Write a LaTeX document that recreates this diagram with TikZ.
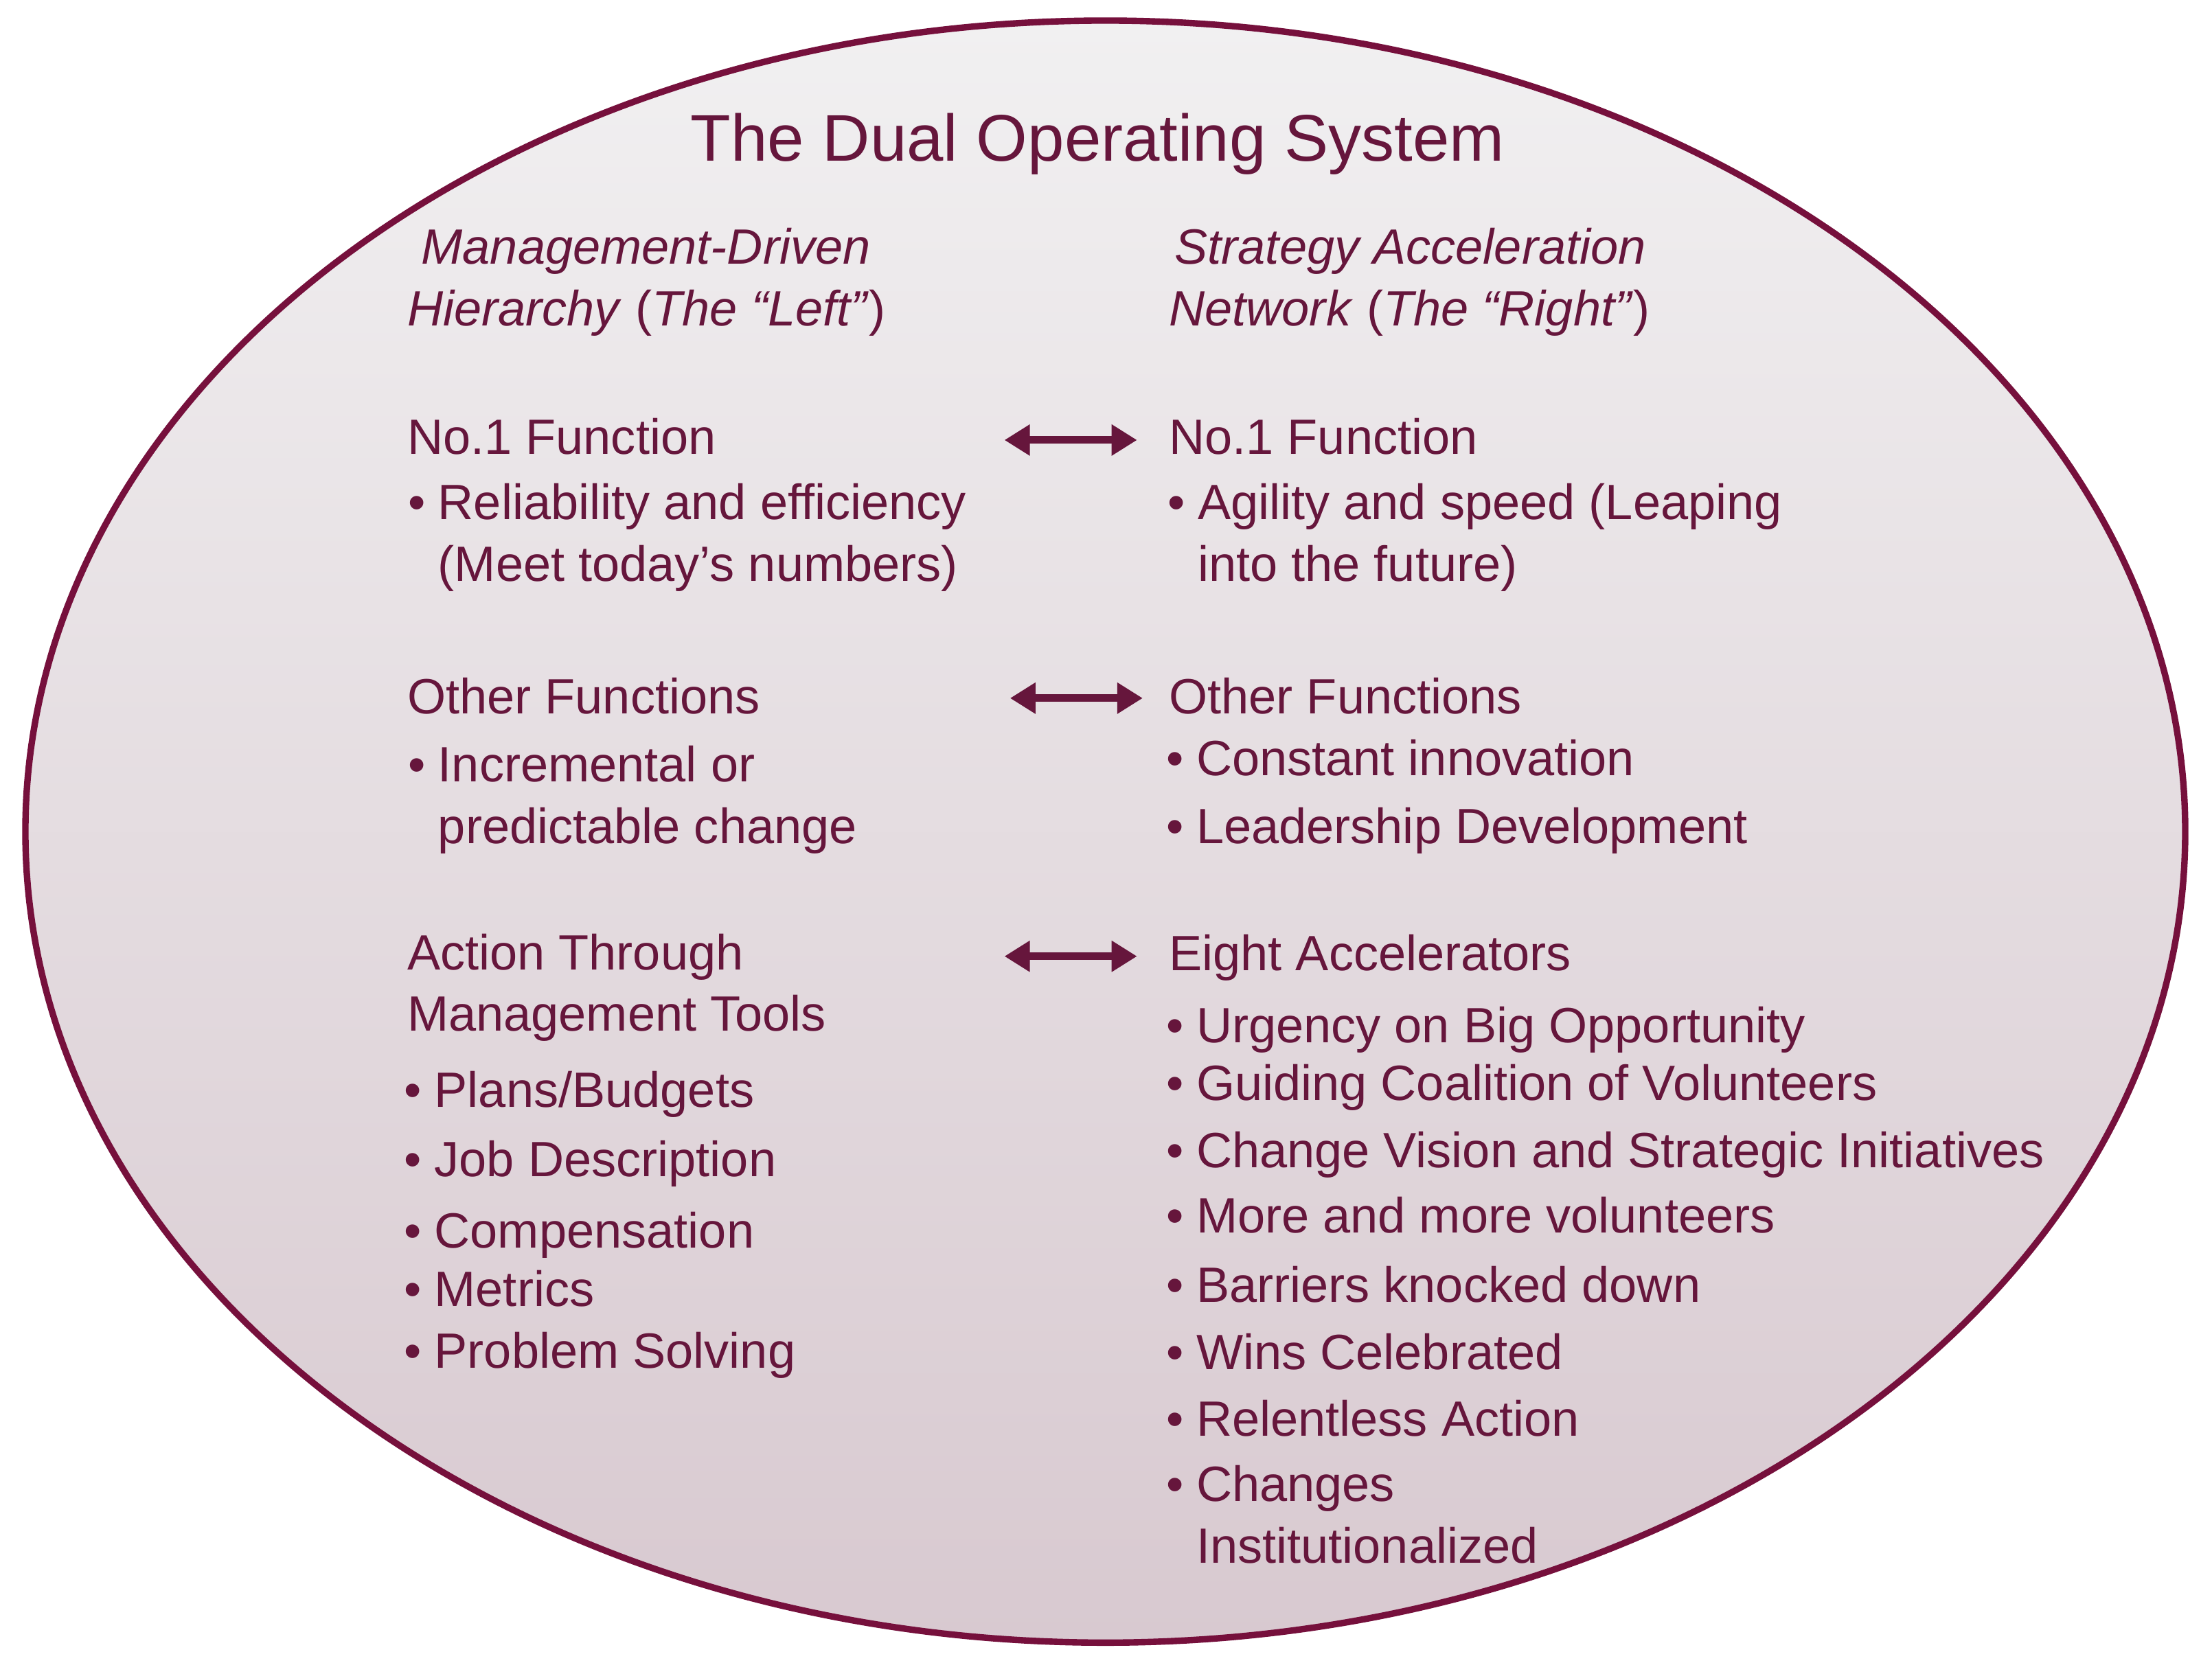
\documentclass[tikz,border=0pt]{standalone}
\usepackage{fontspec}
\setmainfont{Liberation Sans}
\usetikzlibrary{arrows.meta,positioning}
\definecolor{RimMaroon}{RGB}{118,16,60}
\definecolor{InkPlum}{RGB}{102,22,60}
\definecolor{MistTop}{RGB}{241,240,241}
\definecolor{MistBottom}{RGB}{216,201,208}
\newcommand{\bl}{\textbullet\hspace{0.09cm}}
\tikzset{
  maintitle/.style={font=\fontsize{13.3}{16}\selectfont,text=InkPlum,
    anchor=base,inner sep=0pt},
  colhead/.style={font=\fontsize{10}{12.4}\selectfont\itshape,text=InkPlum,
    anchor=base west,inner sep=0pt,align=left},
  entry/.style={font=\fontsize{10}{12.4}\selectfont,text=InkPlum,
    anchor=base west,inner sep=0pt,align=left},
  link/.style={{Triangle[length=0.18cm,width=0.21cm]}-{Triangle[length=0.18cm,width=0.21cm]},
    line width=1.5pt,InkPlum}
}

\begin{document}
\begin{tikzpicture}

\fill[white] (0,0) rectangle (15.68,-11.79);
\useasboundingbox (0,0) rectangle (15.68,-11.79);

% outer oval
\draw[RimMaroon,line width=1.3pt,top color=MistTop,bottom color=MistBottom]
  (7.835,-5.896) ellipse [x radius=7.655cm,y radius=5.75cm];

\node[maintitle] (title) at (7.78,-1.14) {The Dual Operating System};

% column headings (multi-line nodes sit on their last baseline)
\node[colhead] (lhead) at (2.88,-2.31)
  {\hspace*{0.1cm}Management-Driven\\Hierarchy \textup{(}The “Left”\textup{)}};
\node[colhead] (rhead) at (8.28,-2.31)
  {\hspace*{0.04cm}Strategy Acceleration\\Network \textup{(}The “Right”\textup{)}};

% no.1 function
\node[entry] (lfun1) at (2.88,-3.22) {No.1 Function};
\node[entry] (lbul1) at (2.885,-4.12)
  {\bl Reliability and efficiency\\\phantom{\bl}(Meet today’s numbers)};
\node[entry] (rfun1) at (8.28,-3.22) {No.1 Function};
\node[entry] (rbul1) at (8.27,-4.12)
  {\bl Agility and speed (Leaping\\\phantom{\bl}into the future)};

% other functions
\node[entry] (lfun2) at (2.88,-5.06) {Other Functions};
\node[entry] (lbul2) at (2.885,-5.98)
  {\bl Incremental or\\\phantom{\bl}predictable change};
\node[entry] (rfun2) at (8.28,-5.06) {Other Functions};
\node[entry] (rbul2a) at (8.26,-5.50) {\bl Constant innovation};
\node[entry] (rbul2b) at (8.26,-5.98) {\bl Leadership Development};

% tools and accelerators
\node[entry] (lfun3) at (2.88,-7.31) {Action Through\\Management Tools};
\node[entry] (ltool1) at (2.86,-7.85) {\bl Plans/Budgets};
\node[entry] (ltool2) at (2.86,-8.34) {\bl Job Description};
\node[entry] (ltool3) at (2.86,-8.85) {\bl Compensation};
\node[entry] (ltool4) at (2.86,-9.26) {\bl Metrics};
\node[entry] (ltool5) at (2.86,-9.70) {\bl Problem Solving};

\node[entry] (rfun3) at (8.28,-6.88) {Eight Accelerators};
\node[entry] (racc1) at (8.26,-7.39) {\bl Urgency on Big Opportunity};
\node[entry] (racc2) at (8.26,-7.80) {\bl Guiding Coalition of Volunteers};
\node[entry] (racc3) at (8.26,-8.28) {\bl Change Vision and Strategic Initiatives};
\node[entry] (racc4) at (8.26,-8.74) {\bl More and more volunteers};
\node[entry] (racc5) at (8.26,-9.23) {\bl Barriers knocked down};
\node[entry] (racc6) at (8.26,-9.71) {\bl Wins Celebrated};
\node[entry] (racc7) at (8.26,-10.18) {\bl Relentless Action};
\node[entry] (racc8) at (8.26,-11.08) {\bl Changes\\\phantom{\bl}Institutionalized};

% two-way links
\coordinate (a1w) at (7.12,-3.12);
\coordinate (a1e) at (8.06,-3.12);
\coordinate (a2w) at (7.16,-4.95);
\coordinate (a2e) at (8.10,-4.95);
\coordinate (a3w) at (7.12,-6.78);
\coordinate (a3e) at (8.06,-6.78);
\draw[link] (a1w) -- (a1e);
\draw[link] (a2w) -- (a2e);
\draw[link] (a3w) -- (a3e);

\end{tikzpicture}
\end{document}
